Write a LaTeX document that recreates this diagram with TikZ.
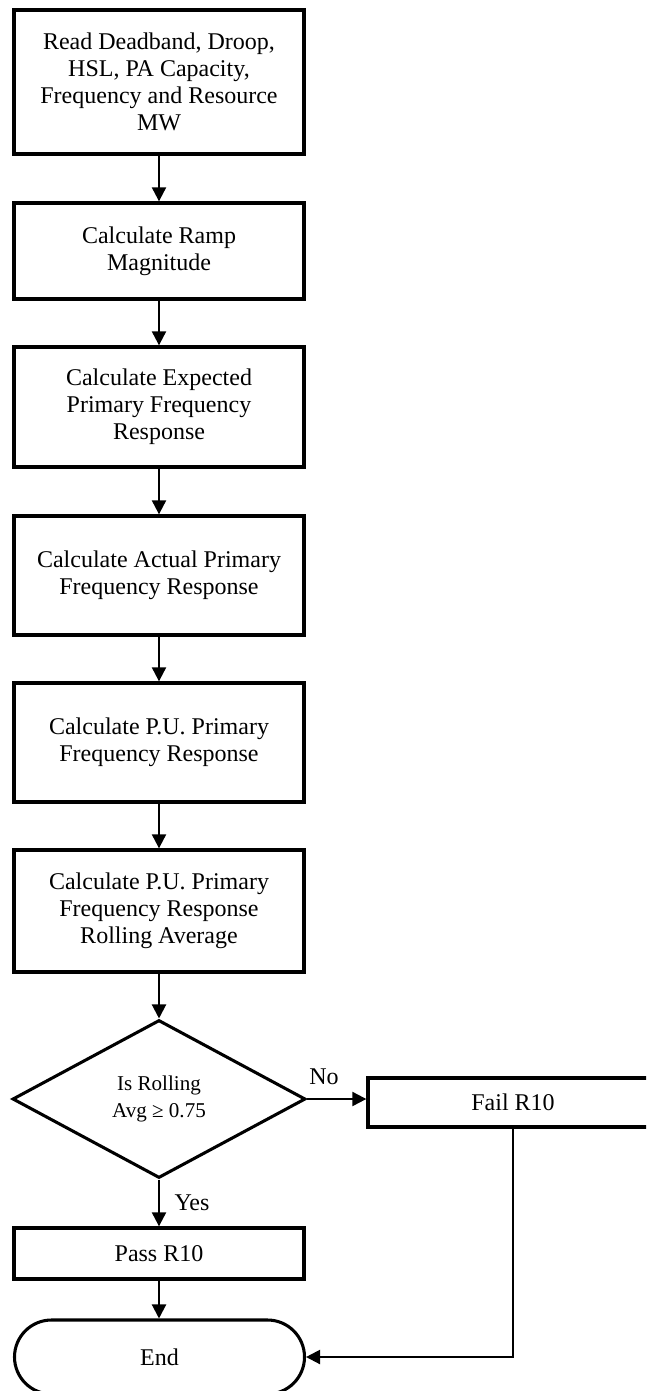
\documentclass[tikz,border=0pt]{standalone}
\usepackage{fontspec}
\setmainfont{Liberation Serif}
\usetikzlibrary{shapes.geometric,arrows.meta}
\begin{document}
\begin{tikzpicture}[x=0.75pt,y=-0.75pt,
  txt/.style={font=\fontsize{18}{20.3}\selectfont},
  stepbox/.style={txt,draw,line width=2.5pt,minimum width=217.5pt,inner sep=0pt,align=center},
  decision/.style={draw,diamond,line width=2.3pt,minimum width=219.75pt,minimum height=118.5pt,
    aspect=1.85,inner sep=0pt,align=center,font=\fontsize{15.8}{20}\selectfont},
  terminal/.style={txt,draw,line width=2.3pt,rectangle,rounded corners=27.75pt,
    minimum width=217.5pt,minimum height=55.5pt,inner sep=0pt},
  flow/.style={line width=1.6pt,-{Triangle[width=10.5pt,length=10.5pt]}},
  lbl/.style={txt,inner sep=0pt}]
\useasboundingbox (0,0) rectangle (646,1391);
\clip (0,0) rectangle (646,1391);

% process chain
\node[stepbox,minimum height=108pt]  (read) at (159,82)    {Read Deadband, Droop,\\HSL, PA Capacity,\\Frequency and Resource\\MW};
\node[stepbox,minimum height=72pt]   (ramp) at (159,251)   {Calculate Ramp\\Magnitude};
\node[stepbox,minimum height=90pt]   (exp)  at (159,407)   {Calculate Expected\\Primary Frequency\\Response};
\node[stepbox,minimum height=89.25pt] (act) at (159,575.5) {Calculate Actual Primary\\Frequency Response};
\node[stepbox,minimum height=89.25pt] (pu)  at (159,742.5) {Calculate P.U. Primary\\Frequency Response};
\node[stepbox,minimum height=91.5pt] (roll) at (159,911)   {Calculate P.U. Primary\\Frequency Response\\Rolling Average};

% decision and outcomes
\node[decision] (dec) at (159,1099) {Is Rolling\\Avg \char"2265\ 0.75};
\node[stepbox,minimum height=36.75pt] (fail) at (513,1102.5) {Fail R10};
\node[stepbox,minimum height=38.25pt] (pass) at (159,1253.5) {Pass R10};
\node[terminal] (end) at (159.5,1357) {End};
\coordinate (corner) at (513,1357);

\draw[flow] (read) -- (ramp);
\draw[flow] (ramp) -- (exp);
\draw[flow] (exp) -- (act);
\draw[flow] (act) -- (pu);
\draw[flow] (pu) -- (roll);
\draw[flow] (roll) -- (dec);
\draw[flow] (dec.east) -- (dec.east -| fail.west);
\draw[flow] (dec) -- (pass);
\draw[flow] (pass.south) -- (pass.south |- end.north);
\draw[flow] (fail.south) -- (corner) -- (end.east);

\node[lbl] (no)  at (324,1077) {No};
\node[lbl] (yes) at (192,1203) {Yes};
\end{tikzpicture}
\end{document}
